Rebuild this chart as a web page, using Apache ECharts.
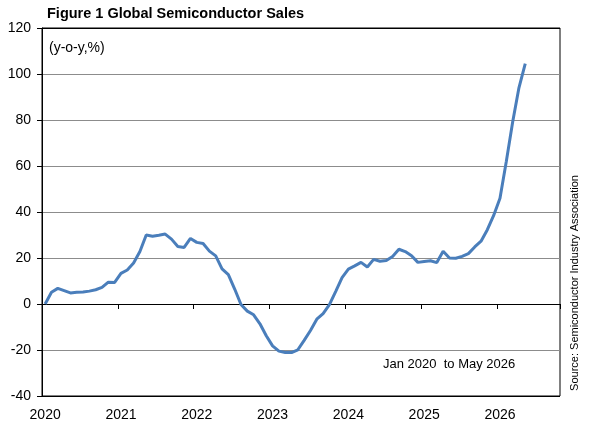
<!DOCTYPE html>
<html lang="en">
<head>
    <meta charset="UTF-8">
    <title>Global Semiconductor Sales</title>
    <script src="https://cdn.jsdelivr.net/npm/echarts@6.0.0/dist/echarts.min.js"></script>
    <style>
        html, body {
            margin: 0;
            padding: 0;
            background: #fff;
        }

        #chart {
            width: 590px;
            height: 423px;
        }
    </style>
</head>
<body>
    <div id="chart"></div>

    <script>
        // monthly categories, Jan 2020 .. Oct 2026 (axis runs a few months past the data)
        const years = ['2020', '2021', '2022', '2023', '2024', '2025', '2026'];
        const months = ['01', '02', '03', '04', '05', '06', '07', '08', '09', '10', '11', '12'];
        const categories = [];
        years.forEach(function (y) {
            months.forEach(function (m) {
                categories.push(y + '-' + m);
            });
        });
        categories.length = 82;

        // y-o-y growth, %, Jan 2020 .. May 2026
        const sales = [
            0, 5.1, 6.8, 5.8, 4.8, 5.1, 5.2, 5.6, 6.2, 7.2, 9.5, 9.4,
            13.3, 14.8, 17.8, 22.8, 30.0, 29.5, 29.9, 30.4, 28.2, 25.0, 24.6, 28.5,
            26.8, 26.3, 23.0, 20.9, 15.3, 12.8, 6.5, -0.2, -3.1, -4.7, -8.6, -13.8,
            -18.2, -20.5, -21.1, -21.1, -19.9, -15.8, -11.5, -6.6, -4.2, -0.3, 5.5, 11.5,
            15.2, 16.6, 18.1, 16.1, 19.4, 18.6, 18.9, 20.7, 23.8, 22.8, 21.0, 18.1,
            18.5, 18.8, 18.0, 22.9, 20.0, 19.9, 20.7, 21.9, 24.8, 27.3, 32.3, 38.5,
            46.0, 62.0, 79.0, 94.0, 104.5
        ];

        const yMin = -40;
        const yMax = 120;
        const yStep = 20;

        document.addEventListener('DOMContentLoaded', function () {
            const font = "'Liberation Sans', Arial, sans-serif";
            const chart = echarts.init(document.getElementById('chart'));

            // gridlines: black at the frame edges and at zero, grey elsewhere
            const lineColors = [];
            for (let v = yMin; v <= yMax; v += yStep) {
                lineColors.push(v === yMin || v === yMax || v === 0 ? '#000' : '#8c8c8c');
            }

            chart.setOption({
                animation: false,
                textStyle: { fontFamily: font },
                grid: {
                    left: 42,
                    right: 30,
                    top: 28,
                    bottom: 27,
                    show: true,
                    borderColor: '#000',
                    borderWidth: 1
                },
                graphic: [{
                    type: 'text',
                    left: 47,
                    top: 6,
                    style: {
                        text: 'Figure 1 Global Semiconductor Sales',
                        font: 'bold 14.5px ' + font,
                        fill: '#000'
                    }
                }, {
                    type: 'text',
                    left: 49,
                    top: 41,
                    style: {
                        text: '(y-o-y,%)',
                        font: '14px ' + font,
                        fill: '#000'
                    }
                }, {
                    type: 'text',
                    left: 383,
                    top: 358,
                    style: {
                        text: 'Jan 2020  to May 2026',
                        font: '13px ' + font,
                        fill: '#000'
                    }
                }, {
                    type: 'text',
                    x: 575,
                    y: 283,
                    rotation: Math.PI / 2,
                    style: {
                        text: 'Source: Semiconductor Industry Association',
                        font: '11px ' + font,
                        fill: '#000',
                        align: 'center',
                        verticalAlign: 'middle'
                    }
                }],
                xAxis: [{
                    type: 'category',
                    data: categories,
                    boundaryGap: true,
                    axisLine: { show: false, onZero: false },
                    axisTick: { show: false },
                    splitLine: { show: false },
                    axisLabel: {
                        interval: 11,
                        margin: 12,
                        fontSize: 14,
                        color: '#000',
                        formatter: function (value) {
                            return value.slice(0, 4);
                        }
                    }
                }, {
                    type: 'category',
                    data: categories,
                    position: 'bottom',
                    boundaryGap: true,
                    axisLine: {
                        show: true,
                        onZero: true,
                        lineStyle: { color: '#000', width: 1 }
                    },
                    axisTick: {
                        show: true,
                        interval: 11,
                        length: 5,
                        lineStyle: { color: '#000' }
                    },
                    axisLabel: { show: false },
                    splitLine: { show: false }
                }],
                yAxis: {
                    type: 'value',
                    min: yMin,
                    max: yMax,
                    interval: yStep,
                    axisLine: { show: true, lineStyle: { color: '#000' } },
                    axisTick: { show: true, length: 5, lineStyle: { color: '#000' } },
                    axisLabel: {
                        margin: 11,
                        fontSize: 14,
                        color: '#000'
                    },
                    splitLine: {
                        show: true,
                        lineStyle: { color: lineColors, width: 1 }
                    }
                },
                series: [{
                    name: 'Global Semiconductor Sales',
                    type: 'line',
                    xAxisIndex: 0,
                    yAxisIndex: 0,
                    data: sales,
                    showSymbol: false,
                    lineStyle: {
                        color: '#4a7ebb',
                        width: 3
                    }
                }]
            });
        });
    </script>
</body>
</html>
